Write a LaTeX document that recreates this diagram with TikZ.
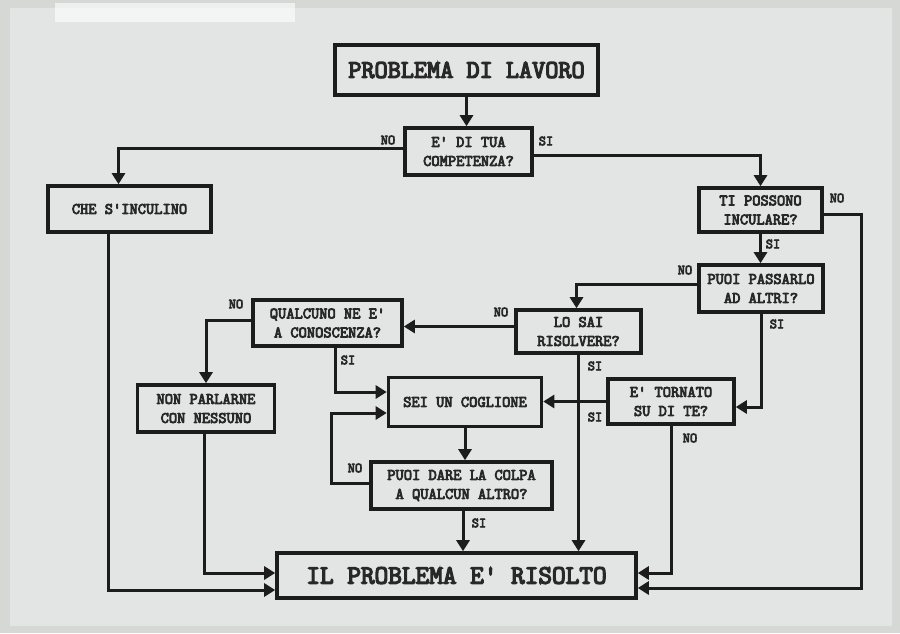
\documentclass[tikz,border=0pt]{standalone}
\usepackage{fontspec}
\newfontfamily\courb{Latin Modern Mono}[FakeBold=5]
\usetikzlibrary{arrows.meta}
\definecolor{ink}{RGB}{28,28,28}
\definecolor{txt}{RGB}{40,40,40}
\definecolor{paper}{RGB}{227,229,228}
\definecolor{bgout}{RGB}{214,216,214}
\tikzset{
  box/.style={draw=ink, line width=3.6pt, fill=paper, text=txt, align=center,
    font=\courb\fontsize{16}{19}\selectfont, inner sep=0pt},
  arr/.style={draw=ink, line width=3pt, -{Triangle[length=11pt,width=13pt]}},
  lab/.style={text=txt, font=\courb\fontsize{14}{16}\selectfont, inner sep=0pt}
}
\begin{document}
\begin{tikzpicture}[x=1pt,y=-1pt]
\useasboundingbox (0,0) rectangle (900,633);
\fill[bgout] (0,0) rectangle (900,633);
\fill[paper] (10,8) rectangle (892,626);
\fill[white,opacity=0.6] (55,3) rectangle (295,22);
% boxes
\node[box, minimum width=263pt, minimum height=50pt, font=\courb\fontsize{25.5}{28}\selectfont] (pdl) at (466.5,70) {PROBLEMA DI LAVORO};
\node[box, minimum width=127pt, minimum height=47pt] (comp) at (468.5,151.5) {E' DI TUA\\COMPETENZA?};
\node[box, minimum width=163pt, minimum height=46pt] (che) at (129.5,209) {CHE S'INCULINO};
\node[box, minimum width=123pt, minimum height=44pt] (ti) at (760.5,210) {TI POSSONO\\INCULARE?};
\node[box, minimum width=124pt, minimum height=47pt] (puoi) at (761,288.5) {PUOI PASSARLO\\AD ALTRI?};
\node[box, minimum width=125pt, minimum height=43pt] (losai) at (578.5,331.5) {LO SAI\\RISOLVERE?};
\node[box, minimum width=149pt, minimum height=46pt] (qual) at (327.5,323) {QUALCUNO NE E'\\A CONOSCENZA?};
\node[box, minimum width=137pt, minimum height=47pt] (non) at (206,408.5) {NON PARLARNE\\CON NESSUNO};
\node[box, minimum width=153pt, minimum height=49pt] (sei) at (465,402) {SEI UN COGLIONE};
\node[box, minimum width=126pt, minimum height=45pt] (torn) at (671,401.5) {E' TORNATO\\SU DI TE?};
\node[box, minimum width=181pt, minimum height=47pt] (dare) at (461.5,485.5) {PUOI DARE LA COLPA\\A QUALCUN ALTRO?};
\node[box, minimum width=359pt, minimum height=45pt, font=\courb\fontsize{26.5}{30}\selectfont] (ris) at (456.5,575.5) {IL PROBLEMA E' RISOLTO};
% connectors
\draw[arr] (pdl.south) -- (pdl.south |- comp.north);
\draw[arr] ([yshift=3pt]comp.west) -| ([xshift=-11pt]che.north);
\draw[arr] ([yshift=-4pt]comp.east) -| (ti.north);
\draw[arr] ([yshift=-4pt]ti.east) -- ++(38,0) |- ([yshift=-12.5pt]ris.east);
\draw[arr] (ti.south) -- (ti.south |- puoi.north);
\draw[arr] ([yshift=4pt]puoi.west) -| ([xshift=-2pt]losai.north);
\draw[arr] (puoi.south) |- ([yshift=-5.5pt]torn.east);
\draw[arr] ([yshift=5pt]losai.west) -- ([yshift=5pt]losai.west -| qual.east);
\draw[arr] (losai.south) -- (losai.south |- ris.north);
\draw[arr] (torn.west) -- (torn.west -| sei.east);
\draw[arr] (torn.south) |- ([yshift=2.5pt]ris.west -| ris.east);
\draw[arr] ([yshift=3pt]qual.west) -| (non.north);
\draw[arr] ([xshift=7.5pt]qual.south) |- ([yshift=10pt]sei.west);
\draw[arr] (sei.south) -- (sei.south |- dare.north);
\draw[arr] ([yshift=2.5pt]dare.west) -- ++(-38,0) |- ([yshift=-11pt]sei.west);
\draw[arr] ([xshift=1.5pt]dare.south) -- ([xshift=1.5pt]dare.south |- ris.north);
\draw[arr] ([xshift=-2pt]non.south) |- ([yshift=2.5pt]ris.west);
\draw[arr] ([xshift=-21pt]che.south) |- ([yshift=-14.5pt]ris.west);
% labels
\node[lab] (l1) at (388,140) {NO};
\node[lab] (l2) at (546,141) {SI};
\node[lab] (l3) at (837,198) {NO};
\node[lab] (l4) at (773,244) {SI};
\node[lab] (l5) at (685,270) {NO};
\node[lab] (l6) at (777,324) {SI};
\node[lab] (l7) at (501,312) {NO};
\node[lab] (l8) at (595,366) {SI};
\node[lab] (l9) at (595,417) {SI};
\node[lab] (l10) at (690,438) {NO};
\node[lab] (l11) at (236,304) {NO};
\node[lab] (l12) at (348,360) {SI};
\node[lab] (l13) at (355,468) {NO};
\node[lab] (l14) at (479,523) {SI};
\end{tikzpicture}
\end{document}
